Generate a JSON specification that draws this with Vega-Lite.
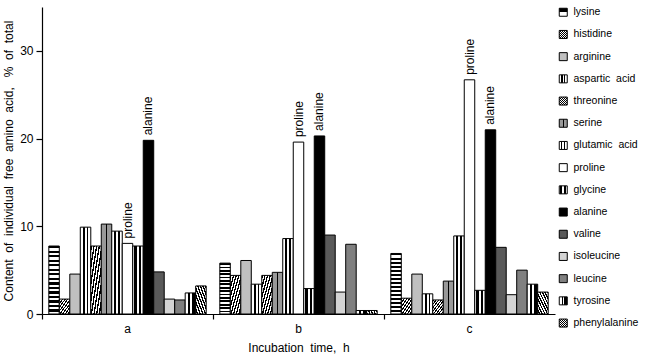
{
  "$schema": "https://vega.github.io/schema/vega-lite/v6.json",
  "width": 513,
  "height": 307,
  "autosize": {"type": "none"},
  "padding": {"left": 42, "top": 7, "right": 99, "bottom": 47},
  "params": [
    {"name": "gLys", "expr": "{gradient:'linear',x1:0,y1:0,x2:0,y2:1,stops:[{offset:0,color:'#000'},{offset:0.0333,color:'#000'},{offset:0.0333,color:'#fff'},{offset:0.0667,color:'#fff'},{offset:0.0667,color:'#000'},{offset:0.1,color:'#000'},{offset:0.1,color:'#fff'},{offset:0.1333,color:'#fff'},{offset:0.1333,color:'#000'},{offset:0.1667,color:'#000'},{offset:0.1667,color:'#fff'},{offset:0.2,color:'#fff'},{offset:0.2,color:'#000'},{offset:0.2333,color:'#000'},{offset:0.2333,color:'#fff'},{offset:0.2667,color:'#fff'},{offset:0.2667,color:'#000'},{offset:0.3,color:'#000'},{offset:0.3,color:'#fff'},{offset:0.3333,color:'#fff'},{offset:0.3333,color:'#000'},{offset:0.3667,color:'#000'},{offset:0.3667,color:'#fff'},{offset:0.4,color:'#fff'},{offset:0.4,color:'#000'},{offset:0.4333,color:'#000'},{offset:0.4333,color:'#fff'},{offset:0.4667,color:'#fff'},{offset:0.4667,color:'#000'},{offset:0.5,color:'#000'},{offset:0.5,color:'#fff'},{offset:0.5333,color:'#fff'},{offset:0.5333,color:'#000'},{offset:0.5667,color:'#000'},{offset:0.5667,color:'#fff'},{offset:0.6,color:'#fff'},{offset:0.6,color:'#000'},{offset:0.6333,color:'#000'},{offset:0.6333,color:'#fff'},{offset:0.6667,color:'#fff'},{offset:0.6667,color:'#000'},{offset:0.7,color:'#000'},{offset:0.7,color:'#fff'},{offset:0.7333,color:'#fff'},{offset:0.7333,color:'#000'},{offset:0.7667,color:'#000'},{offset:0.7667,color:'#fff'},{offset:0.8,color:'#fff'},{offset:0.8,color:'#000'},{offset:0.8333,color:'#000'},{offset:0.8333,color:'#fff'},{offset:0.8667,color:'#fff'},{offset:0.8667,color:'#000'},{offset:0.9,color:'#000'},{offset:0.9,color:'#fff'},{offset:0.9333,color:'#fff'},{offset:0.9333,color:'#000'},{offset:0.9667,color:'#000'},{offset:0.9667,color:'#fff'},{offset:1,color:'#fff'}]}"},
    {"name": "gHatch", "expr": "{gradient:'linear',x1:0,y1:0,x2:1,y2:1,stops:[{offset:0,color:'#000'},{offset:0.0625,color:'#000'},{offset:0.0625,color:'#fff'},{offset:0.125,color:'#fff'},{offset:0.125,color:'#000'},{offset:0.1875,color:'#000'},{offset:0.1875,color:'#fff'},{offset:0.25,color:'#fff'},{offset:0.25,color:'#000'},{offset:0.3125,color:'#000'},{offset:0.3125,color:'#fff'},{offset:0.375,color:'#fff'},{offset:0.375,color:'#000'},{offset:0.4375,color:'#000'},{offset:0.4375,color:'#fff'},{offset:0.5,color:'#fff'},{offset:0.5,color:'#000'},{offset:0.5625,color:'#000'},{offset:0.5625,color:'#fff'},{offset:0.625,color:'#fff'},{offset:0.625,color:'#000'},{offset:0.6875,color:'#000'},{offset:0.6875,color:'#fff'},{offset:0.75,color:'#fff'},{offset:0.75,color:'#000'},{offset:0.8125,color:'#000'},{offset:0.8125,color:'#fff'},{offset:0.875,color:'#fff'},{offset:0.875,color:'#000'},{offset:0.9375,color:'#000'},{offset:0.9375,color:'#fff'},{offset:1,color:'#fff'}]}"},
    {"name": "gBack", "expr": "{gradient:'linear',x1:1,y1:0,x2:0,y2:1,stops:[{offset:0,color:'#000'},{offset:0.0625,color:'#000'},{offset:0.0625,color:'#fff'},{offset:0.125,color:'#fff'},{offset:0.125,color:'#000'},{offset:0.1875,color:'#000'},{offset:0.1875,color:'#fff'},{offset:0.25,color:'#fff'},{offset:0.25,color:'#000'},{offset:0.3125,color:'#000'},{offset:0.3125,color:'#fff'},{offset:0.375,color:'#fff'},{offset:0.375,color:'#000'},{offset:0.4375,color:'#000'},{offset:0.4375,color:'#fff'},{offset:0.5,color:'#fff'},{offset:0.5,color:'#000'},{offset:0.5625,color:'#000'},{offset:0.5625,color:'#fff'},{offset:0.625,color:'#fff'},{offset:0.625,color:'#000'},{offset:0.6875,color:'#000'},{offset:0.6875,color:'#fff'},{offset:0.75,color:'#fff'},{offset:0.75,color:'#000'},{offset:0.8125,color:'#000'},{offset:0.8125,color:'#fff'},{offset:0.875,color:'#fff'},{offset:0.875,color:'#000'},{offset:0.9375,color:'#000'},{offset:0.9375,color:'#fff'},{offset:1,color:'#fff'}]}"},
    {"name": "gAsp", "expr": "{gradient:'linear',x1:0,y1:0,x2:1,y2:0,stops:[{offset:0,color:'#fff'},{offset:0.28,color:'#fff'},{offset:0.28,color:'#000'},{offset:0.42,color:'#000'},{offset:0.42,color:'#fff'},{offset:0.6,color:'#fff'},{offset:0.6,color:'#000'},{offset:0.74,color:'#000'},{offset:0.74,color:'#fff'},{offset:1,color:'#fff'}]}"},
    {"name": "gSer", "expr": "{gradient:'linear',x1:0,y1:0,x2:1,y2:0,stops:[{offset:0,color:'#999'},{offset:0.42,color:'#999'},{offset:0.42,color:'#000'},{offset:0.58,color:'#000'},{offset:0.58,color:'#999'},{offset:1,color:'#999'}]}"},
    {"name": "gGlu", "expr": "{gradient:'linear',x1:0,y1:0,x2:1,y2:0,stops:[{offset:0,color:'#fff'},{offset:0.22,color:'#fff'},{offset:0.22,color:'#000'},{offset:0.36,color:'#000'},{offset:0.36,color:'#fff'},{offset:0.64,color:'#fff'},{offset:0.64,color:'#000'},{offset:0.78,color:'#000'},{offset:0.78,color:'#fff'},{offset:1,color:'#fff'}]}"},
    {"name": "gGly", "expr": "{gradient:'linear',x1:0,y1:0,x2:1,y2:0,stops:[{offset:0,color:'#fff'},{offset:0.15,color:'#fff'},{offset:0.15,color:'#000'},{offset:0.38,color:'#000'},{offset:0.38,color:'#fff'},{offset:0.6,color:'#fff'},{offset:0.6,color:'#000'},{offset:0.83,color:'#000'},{offset:0.83,color:'#fff'},{offset:1,color:'#fff'}]}"},
    {"name": "gTyr", "expr": "{gradient:'linear',x1:0,y1:0,x2:1,y2:0,stops:[{offset:0,color:'#fff'},{offset:0.3,color:'#fff'},{offset:0.3,color:'#000'},{offset:0.5,color:'#000'},{offset:0.5,color:'#fff'},{offset:0.65,color:'#fff'},{offset:0.65,color:'#000'},{offset:1,color:'#000'}]}"}
  ],
  "config": {
    "view": {"stroke": null},
    "font": "Liberation Sans",
    "axis": {
      "domainColor": "#000",
      "tickColor": "#000",
      "labelColor": "#000",
      "titleColor": "#000",
      "labelFontSize": 12,
      "titleFontSize": 12,
      "titleFontWeight": "normal",
      "grid": false,
      "domainWidth": 1.2,
      "tickWidth": 1.2
    }
  },
  "data": {
    "values": [
      {"g": "a", "aa": "lysine", "v": 7.75},
      {"g": "a", "aa": "histidine", "v": 1.7},
      {"g": "a", "aa": "arginine", "v": 4.55},
      {"g": "a", "aa": "aspartic acid", "v": 9.9},
      {"g": "a", "aa": "threonine", "v": 7.75},
      {"g": "a", "aa": "serine", "v": 10.25},
      {"g": "a", "aa": "glutamic acid", "v": 9.45},
      {"g": "a", "aa": "proline", "v": 8.05},
      {"g": "a", "aa": "glycine", "v": 7.75},
      {"g": "a", "aa": "alanine", "v": 19.8},
      {"g": "a", "aa": "valine", "v": 4.8},
      {"g": "a", "aa": "isoleucine", "v": 1.7},
      {"g": "a", "aa": "leucine", "v": 1.6},
      {"g": "a", "aa": "tyrosine", "v": 2.4},
      {"g": "a", "aa": "phenylalanine", "v": 3.2},
      {"g": "b", "aa": "lysine", "v": 5.8},
      {"g": "b", "aa": "histidine", "v": 4.4},
      {"g": "b", "aa": "arginine", "v": 6.1},
      {"g": "b", "aa": "aspartic acid", "v": 3.4},
      {"g": "b", "aa": "threonine", "v": 4.4},
      {"g": "b", "aa": "serine", "v": 4.75},
      {"g": "b", "aa": "glutamic acid", "v": 8.6},
      {"g": "b", "aa": "proline", "v": 19.6},
      {"g": "b", "aa": "glycine", "v": 2.9},
      {"g": "b", "aa": "alanine", "v": 20.3},
      {"g": "b", "aa": "valine", "v": 9.0},
      {"g": "b", "aa": "isoleucine", "v": 2.5},
      {"g": "b", "aa": "leucine", "v": 7.95},
      {"g": "b", "aa": "tyrosine", "v": 0.4},
      {"g": "b", "aa": "phenylalanine", "v": 0.4},
      {"g": "c", "aa": "lysine", "v": 6.9},
      {"g": "c", "aa": "histidine", "v": 1.8},
      {"g": "c", "aa": "arginine", "v": 4.55},
      {"g": "c", "aa": "aspartic acid", "v": 2.3},
      {"g": "c", "aa": "threonine", "v": 1.6},
      {"g": "c", "aa": "serine", "v": 3.75},
      {"g": "c", "aa": "glutamic acid", "v": 8.9},
      {"g": "c", "aa": "proline", "v": 26.7},
      {"g": "c", "aa": "glycine", "v": 2.7},
      {"g": "c", "aa": "alanine", "v": 21.0},
      {"g": "c", "aa": "valine", "v": 7.6},
      {"g": "c", "aa": "isoleucine", "v": 2.2},
      {"g": "c", "aa": "leucine", "v": 5.0},
      {"g": "c", "aa": "tyrosine", "v": 3.4},
      {"g": "c", "aa": "phenylalanine", "v": 2.5}
    ]
  },
  "layer": [
    {
      "mark": {"type": "bar", "stroke": "#000", "strokeWidth": 1},
      "encoding": {
        "x": {
          "field": "g", "type": "nominal",
          "scale": {"paddingInner": 0, "paddingOuter": 0},
          "axis": {"title": "Incubation \u00a0time, \u00a0h", "labelAngle": 0, "bandPosition": 0, "tickSize": 5, "labelPadding": 4, "titlePadding": 8}
        },
        "xOffset": {
          "field": "aa", "type": "nominal",
          "sort": ["lysine", "histidine", "arginine", "aspartic acid", "threonine", "serine", "glutamic acid", "proline", "glycine", "alanine", "valine", "isoleucine", "leucine", "tyrosine", "phenylalanine"],
          "scale": {"paddingInner": 0, "paddingOuter": 0.65}
        },
        "y": {
          "field": "v", "type": "quantitative",
          "scale": {"domain": [0, 35], "nice": false},
          "axis": {"title": "Content \u00a0of \u00a0individual \u00a0free \u00a0amino \u00a0acid, \u00a0\u00a0% \u00a0of \u00a0total", "values": [0, 10, 20, 30], "tickSize": 6, "labelPadding": 3, "titlePadding": 4}
        },
        "fill": {
          "field": "aa", "type": "nominal",
          "scale": {
            "domain": ["lysine", "histidine", "arginine", "aspartic acid", "threonine", "serine", "glutamic acid", "proline", "glycine", "alanine", "valine", "isoleucine", "leucine", "tyrosine", "phenylalanine"],
            "range": [{"expr": "gLys"}, {"expr": "gHatch"}, "#c0c0c0", {"expr": "gAsp"}, {"expr": "gHatch"}, {"expr": "gSer"}, {"expr": "gGlu"}, "#ffffff", {"expr": "gGly"}, "#000000", "#5a5a5a", "#d4d4d4", "#808080", {"expr": "gTyr"}, {"expr": "gBack"}]
          },
          "legend": {"title": null, "orient": "right", "offset": 3, "padding": 0, "symbolType": "square", "symbolSize": 64, "symbolStrokeColor": "#000", "symbolStrokeWidth": 1, "labelFontSize": 10.5, "labelColor": "#000", "rowPadding": 9.2, "labelOffset": 5, "labelLimit": 120, "labelExpr": "replace(datum.label, ' ', ' \u00a0')"}
        }
      }
    },
    {
      "transform": [{"filter": "datum.aa == 'proline' || datum.aa == 'alanine'"}],
      "mark": {"type": "text", "angle": 270, "align": "left", "baseline": "middle", "dx": 5, "fontSize": 12, "color": "#000"},
      "encoding": {
        "x": {"field": "g", "type": "nominal"},
        "xOffset": {
          "field": "aa", "type": "nominal",
          "sort": ["lysine", "histidine", "arginine", "aspartic acid", "threonine", "serine", "glutamic acid", "proline", "glycine", "alanine", "valine", "isoleucine", "leucine", "tyrosine", "phenylalanine"]
        },
        "y": {"field": "v", "type": "quantitative"},
        "text": {"field": "aa"}
      }
    }
  ]
}
